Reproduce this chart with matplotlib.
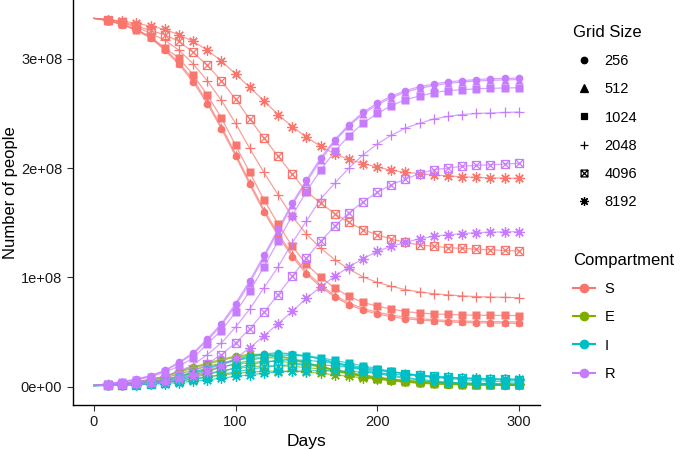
import matplotlib
matplotlib.use("Agg")
import matplotlib.pyplot as plt
import numpy as np
from matplotlib.lines import Line2D
from matplotlib.path import Path
from matplotlib.ticker import FuncFormatter

plt.rcParams["font.family"] = ["Liberation Sans", "DejaVu Sans"]

DAYS = np.arange(0, 301, 10)
GRID_SIZES = ["256", "512", "1024", "2048", "4096", "8192"]
COMPARTMENTS = ["S", "E", "I", "R"]
COLORS = {"S": "#F8766D", "E": "#7CAE00", "I": "#00BFC4", "R": "#C77CFF"}

# values in units of 1e8 people, days 0..300 every 10 days
S = {
    "256": [3.37, 3.35, 3.31, 3.26, 3.19, 3.08, 2.95, 2.79, 2.59, 2.36, 2.11, 1.85, 1.60, 1.38, 1.19, 1.03,
            0.915, 0.82, 0.75, 0.70, 0.665, 0.64, 0.62, 0.61, 0.60, 0.592, 0.587, 0.584, 0.582, 0.58, 0.579],
    "512": [3.37, 3.35, 3.315, 3.265, 3.20, 3.09, 2.965, 2.81, 2.61, 2.38, 2.13, 1.87, 1.62, 1.40, 1.21, 1.05,
            0.93, 0.835, 0.765, 0.715, 0.68, 0.655, 0.635, 0.622, 0.612, 0.605, 0.60, 0.597, 0.595, 0.593, 0.592],
    "1024": [3.37, 3.355, 3.32, 3.27, 3.20, 3.10, 3.007, 2.855, 2.67, 2.46, 2.21, 1.96, 1.71, 1.49, 1.284, 1.12,
             1.0, 0.903, 0.826, 0.771, 0.735, 0.711, 0.686, 0.674, 0.665, 0.66, 0.656, 0.653, 0.652, 0.651, 0.65],
    "2048": [3.37, 3.36, 3.33, 3.29, 3.235, 3.17, 3.08, 2.955, 2.80, 2.62, 2.41, 2.18, 1.96, 1.757, 1.558, 1.397,
             1.269, 1.162, 1.077, 1.004, 0.954, 0.918, 0.887, 0.866, 0.851, 0.839, 0.83, 0.824, 0.82, 0.817, 0.814],
    "4096": [3.37, 3.36, 3.34, 3.30, 3.26, 3.22, 3.16, 3.06, 2.94, 2.80, 2.63, 2.45, 2.275, 2.11, 1.945, 1.787,
             1.68, 1.583, 1.503, 1.436, 1.39, 1.351, 1.32, 1.296, 1.284, 1.272, 1.265, 1.258, 1.252, 1.246, 1.241],
    "8192": [3.37, 3.36, 3.345, 3.325, 3.30, 3.27, 3.22, 3.16, 3.08, 2.98, 2.86, 2.74, 2.615, 2.49, 2.38, 2.285,
             2.20, 2.13, 2.08, 2.04, 2.01, 1.98, 1.96, 1.95, 1.935, 1.93, 1.92, 1.915, 1.91, 1.908, 1.906],
}
E = {
    "256": [0.01, 0.015, 0.03, 0.045, 0.065, 0.095, 0.14, 0.18, 0.215, 0.25, 0.28, 0.295, 0.295, 0.28, 0.25, 0.215,
            0.18, 0.145, 0.115, 0.09, 0.07, 0.052, 0.04, 0.03, 0.024, 0.019, 0.016, 0.014, 0.012, 0.011, 0.01],
    "512": [0.01, 0.015, 0.028, 0.043, 0.062, 0.09, 0.13, 0.17, 0.205, 0.24, 0.27, 0.285, 0.29, 0.28, 0.255, 0.22,
            0.185, 0.15, 0.12, 0.095, 0.074, 0.056, 0.043, 0.033, 0.026, 0.021, 0.018, 0.015, 0.013, 0.012, 0.011],
    "1024": [0.01, 0.014, 0.025, 0.038, 0.055, 0.08, 0.115, 0.15, 0.185, 0.215, 0.24, 0.26, 0.265, 0.26, 0.24, 0.215,
             0.185, 0.155, 0.125, 0.1, 0.08, 0.062, 0.048, 0.038, 0.03, 0.025, 0.021, 0.018, 0.016, 0.014, 0.013],
    "2048": [0.01, 0.013, 0.02, 0.03, 0.045, 0.065, 0.09, 0.12, 0.15, 0.18, 0.205, 0.22, 0.23, 0.23, 0.22, 0.2,
             0.18, 0.155, 0.13, 0.108, 0.088, 0.07, 0.056, 0.045, 0.037, 0.031, 0.027, 0.024, 0.021, 0.019, 0.018],
    "4096": [0.01, 0.012, 0.017, 0.025, 0.035, 0.05, 0.07, 0.095, 0.12, 0.145, 0.165, 0.18, 0.19, 0.19, 0.185, 0.175,
             0.16, 0.14, 0.12, 0.1, 0.083, 0.068, 0.056, 0.047, 0.04, 0.035, 0.031, 0.028, 0.026, 0.024, 0.022],
    "8192": [0.01, 0.011, 0.015, 0.02, 0.028, 0.038, 0.052, 0.07, 0.088, 0.105, 0.12, 0.132, 0.14, 0.142, 0.14, 0.133,
             0.122, 0.108, 0.094, 0.08, 0.068, 0.058, 0.05, 0.043, 0.038, 0.034, 0.031, 0.029, 0.027, 0.026, 0.025],
}
I = {
    "256": [0.01, 0.012, 0.02, 0.03, 0.045, 0.065, 0.095, 0.13, 0.17, 0.21, 0.25, 0.28, 0.30, 0.31, 0.30, 0.28,
            0.25, 0.215, 0.18, 0.15, 0.12, 0.095, 0.075, 0.058, 0.045, 0.035, 0.028, 0.022, 0.018, 0.015, 0.012],
    "512": [0.01, 0.012, 0.019, 0.029, 0.043, 0.062, 0.09, 0.125, 0.163, 0.20, 0.24, 0.27, 0.29, 0.30, 0.295, 0.28,
            0.255, 0.225, 0.19, 0.16, 0.13, 0.105, 0.084, 0.066, 0.052, 0.041, 0.033, 0.027, 0.022, 0.018, 0.015],
    "1024": [0.01, 0.012, 0.017, 0.026, 0.038, 0.055, 0.078, 0.108, 0.14, 0.175, 0.21, 0.24, 0.265, 0.28, 0.285, 0.28,
             0.265, 0.24, 0.215, 0.19, 0.165, 0.14, 0.118, 0.10, 0.085, 0.073, 0.063, 0.055, 0.049, 0.044, 0.04],
    "2048": [0.01, 0.011, 0.015, 0.022, 0.032, 0.045, 0.063, 0.085, 0.11, 0.14, 0.17, 0.20, 0.225, 0.24, 0.245, 0.24,
             0.23, 0.215, 0.195, 0.175, 0.155, 0.135, 0.118, 0.103, 0.091, 0.082, 0.075, 0.069, 0.064, 0.06, 0.057],
    "4096": [0.01, 0.011, 0.014, 0.019, 0.027, 0.037, 0.05, 0.067, 0.087, 0.11, 0.135, 0.158, 0.178, 0.192, 0.20, 0.202,
             0.198, 0.19, 0.178, 0.163, 0.148, 0.133, 0.118, 0.105, 0.094, 0.085, 0.078, 0.072, 0.068, 0.065, 0.062],
    "8192": [0.01, 0.01, 0.012, 0.016, 0.021, 0.028, 0.037, 0.048, 0.062, 0.077, 0.093, 0.108, 0.122, 0.133, 0.14, 0.145,
             0.146, 0.144, 0.139, 0.132, 0.124, 0.115, 0.106, 0.098, 0.091, 0.085, 0.08, 0.076, 0.073, 0.071, 0.07],
}
R = {
    "256": [0.01, 0.027, 0.046, 0.07, 0.10, 0.149, 0.222, 0.308, 0.436, 0.576, 0.76, 0.97, 1.20, 1.44, 1.68, 1.89,
            2.09, 2.26, 2.397, 2.51, 2.595, 2.656, 2.71, 2.745, 2.77, 2.79, 2.80, 2.81, 2.818, 2.82, 2.824],
    "512": [0.01, 0.026, 0.044, 0.067, 0.097, 0.143, 0.214, 0.298, 0.42, 0.56, 0.74, 0.95, 1.18, 1.42, 1.66, 1.87,
            2.07, 2.245, 2.385, 2.495, 2.58, 2.642, 2.695, 2.73, 2.755, 2.775, 2.787, 2.797, 2.803, 2.807, 2.81],
    "1024": [0.01, 0.025, 0.04, 0.06, 0.089, 0.131, 0.186, 0.26, 0.393, 0.512, 0.68, 0.872, 1.095, 1.33, 1.565, 1.785,
             1.98, 2.153, 2.296, 2.41, 2.50, 2.571, 2.626, 2.66, 2.69, 2.71, 2.717, 2.726, 2.73, 2.733, 2.736],
    "2048": [0.01, 0.02, 0.03, 0.045, 0.065, 0.094, 0.14, 0.198, 0.293, 0.40, 0.543, 0.71, 0.903, 1.095, 1.315, 1.515,
             1.716, 1.86, 2.0, 2.12, 2.22, 2.30, 2.367, 2.41, 2.45, 2.473, 2.49, 2.50, 2.504, 2.509, 2.513],
    "4096": [0.01, 0.013, 0.02, 0.03, 0.045, 0.065, 0.095, 0.14, 0.208, 0.293, 0.40, 0.528, 0.68, 0.842, 1.01, 1.174,
             1.33, 1.467, 1.59, 1.69, 1.778, 1.848, 1.90, 1.949, 1.985, 2.0, 2.016, 2.025, 2.03, 2.037, 2.043],
    "8192": [0.01, 0.01, 0.015, 0.02, 0.03, 0.045, 0.065, 0.095, 0.135, 0.19, 0.26, 0.354, 0.465, 0.575, 0.688, 0.808,
             0.912, 1.01, 1.095, 1.171, 1.238, 1.284, 1.32, 1.354, 1.375, 1.39, 1.40, 1.41, 1.413, 1.416, 1.418],
}
DATA = {"S": S, "E": E, "I": I, "R": R}
SCALE = 1e8

# ggplot shape 7 (boxed x) and shape 8 (asterisk)
boxed_x = Path(
    [(-1, -1), (1, -1), (1, 1), (-1, 1), (-1, -1), (-1, -1), (1, 1), (-1, 1), (1, -1)],
    [Path.MOVETO, Path.LINETO, Path.LINETO, Path.LINETO, Path.CLOSEPOLY,
     Path.MOVETO, Path.LINETO, Path.MOVETO, Path.LINETO],
)
MARKERS = {
    "256": dict(marker="o", ms=5.5, filled=True),
    "512": dict(marker="^", ms=6.0, filled=True),
    "1024": dict(marker="s", ms=5.3, filled=True),
    "2048": dict(marker="+", ms=7.5, filled=False),
    "4096": dict(marker=boxed_x, ms=5.8, filled=False),
    "8192": dict(marker=(8, 2, 0), ms=7.5, filled=False),
}

fig = plt.figure(figsize=(6.85, 4.5), dpi=100)
ax = fig.add_axes([72.7 / 685, 1 - 405 / 450, (540 - 72.7) / 685, 405 / 450])

# lines first
for comp in COMPARTMENTS:
    for g in GRID_SIZES:
        ax.plot(DAYS, np.array(DATA[comp][g]) * SCALE, color=COLORS[comp], lw=0.9, alpha=0.7, zorder=2)

# then points (every 10 days from day 10)
for comp in COMPARTMENTS:
    for g in GRID_SIZES:
        m = MARKERS[g]
        y = np.array(DATA[comp][g]) * SCALE
        kw = dict(ls="none", marker=m["marker"], ms=m["ms"], color=COLORS[comp], zorder=3)
        if m["filled"]:
            kw.update(mec="none")
        else:
            kw.update(mfc="none", mew=0.9)
        ax.plot(DAYS[1:], y[1:], **kw)

ax.set_xlim(-15, 315)
ax.set_ylim(-0.1685e8, 3.5385e8)
ax.set_xticks([0, 100, 200, 300])
ax.set_yticks([0, 1e8, 2e8, 3e8])
ax.yaxis.set_major_formatter(FuncFormatter(lambda v, p: f"{v:.0e}"))
for side in ["top", "right"]:
    ax.spines[side].set_visible(False)
for side in ["left", "bottom"]:
    ax.spines[side].set_linewidth(1.0)
ax.tick_params(direction="out", length=4, width=0.8, color="#333333", labelsize=10.5, labelcolor="#1a1a1a")
ax.set_xlabel("Days", fontsize=12.5, labelpad=3)
ax.set_ylabel("Number of people", fontsize=12)
ax.yaxis.set_label_coords(-(72.7 - 18) / 467.3, (405 - 193) / 405)

# legends
grid_handles = [
    Line2D([], [], ls="none", marker=MARKERS[g]["marker"], ms=MARKERS[g]["ms"] * 0.85, color="black",
           mfc="black" if MARKERS[g]["filled"] else "none", mew=0.9)
    for g in GRID_SIZES
]
leg1 = fig.legend(grid_handles, GRID_SIZES, title="Grid Size", loc="upper left",
                  bbox_to_anchor=(560 / 685, 1 - 12 / 450), frameon=False, fontsize=10.5,
                  title_fontsize=12, labelspacing=0.97, handlelength=1.5, handletextpad=0.65)
leg1._legend_box.align = "left"

comp_handles = [
    Line2D([], [], color=COLORS[c], lw=1.5, alpha=0.45, marker="o", ms=6,
           mfc=COLORS[c], mec=COLORS[c]) for c in COMPARTMENTS
]
leg2 = fig.legend(comp_handles, COMPARTMENTS, title="Compartment", loc="upper left",
                  bbox_to_anchor=(560 / 685, 1 - 240 / 450), frameon=False, fontsize=10.5,
                  title_fontsize=12, labelspacing=0.97, handlelength=1.5, handletextpad=0.65)
leg2._legend_box.align = "left"
for h in leg2.legend_handles:
    h.set_alpha(None)

fig.savefig("out.png", dpi=100)
